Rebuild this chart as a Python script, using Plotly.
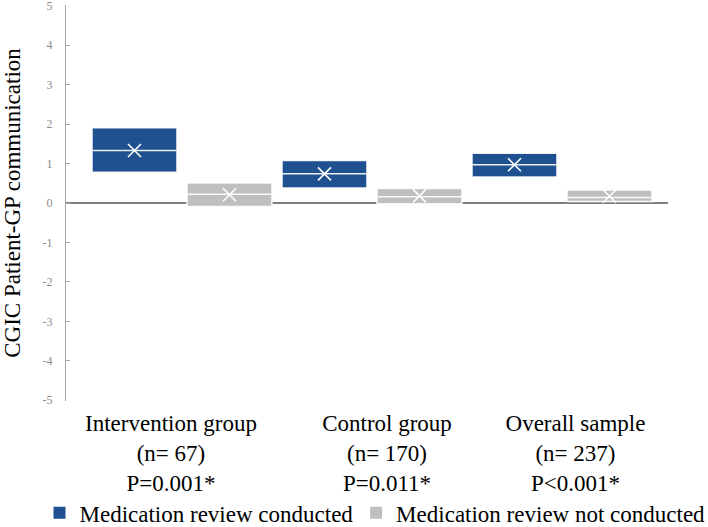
import plotly.graph_objects as go

# ---- data ----
categories = ["Intervention group<br>(n= 67)<br>P=0.001*",
              "Control group<br>(n= 170)<br>P=0.011*",
              "Overall sample<br>(n= 237)<br>P<0.001*"]
series_names = ["Medication review conducted", "Medication review not conducted"]

conducted_lower = [0.78, 0.38, 0.66]
conducted_median = [1.33, 0.74, 0.97]
conducted_upper = [1.91, 1.08, 1.26]
conducted_mean = [1.33, 0.74, 0.97]

not_conducted_lower = [-0.09, -0.02, 0.04]
not_conducted_median = [0.22, 0.16, 0.14]
not_conducted_upper = [0.51, 0.37, 0.33]
not_conducted_mean = [0.21, 0.18, 0.17]

y_ticks = [-5, -4, -3, -2, -1, 0, 1, 2, 3, 4, 5]

# ---- style ----
BLUE = "#1F5190"
GRAY = "#BFBFBF"
FONT = "Liberation Serif"
OFFSETS = [-0.25, 0.25]
BOX_W = 0.447
LABEL_SHIFT = [-0.058, 0.079, 0.071]
LEGEND_X = [0.0558, 0.503]

idx = list(range(len(categories)))

series = [
    (series_names[0], conducted_lower, conducted_median, conducted_upper, conducted_mean, BLUE, OFFSETS[0], "legend"),
    (series_names[1], not_conducted_lower, not_conducted_median, not_conducted_upper, not_conducted_mean, GRAY, OFFSETS[1], "legend2"),
]

fig = go.Figure()
for name, lo, med, up, mean, col, off, leg in series:
    xs = [i + off for i in idx]
    fig.add_trace(go.Box(
        x=xs, q1=lo, median=med, q3=up, lowerfence=lo, upperfence=up,
        width=BOX_W, fillcolor=col, line=dict(color="rgba(255,255,255,0.9)", width=1.5),
        showlegend=False, hoverinfo="skip",
    ))
    fig.add_trace(go.Scatter(
        x=xs, y=mean, mode="markers",
        marker=dict(symbol="x-thin", size=13, line=dict(color="white", width=1.6)),
        showlegend=False, hoverinfo="skip",
    ))
    fig.add_trace(go.Scatter(
        x=[None], y=[None], mode="markers", name=name, legend=leg,
        marker=dict(symbol="square", size=10, color=col),
    ))

legend_common = dict(orientation="h", xanchor="left", xref="container", yref="container",
                     y=0.027, yanchor="middle", bgcolor="rgba(0,0,0,0)",
                     font=dict(size=23, color="black", family=FONT), itemsizing="constant")

fig.update_layout(
    width=708, height=527,
    margin=dict(l=66, r=40, t=5, b=126, autoexpand=False),
    paper_bgcolor="white", plot_bgcolor="white",
    font=dict(family=FONT, color="black"),
    legend=dict(x=LEGEND_X[0], **legend_common),
    legend2=dict(x=LEGEND_X[1], **legend_common),
)
fig.update_xaxes(
    range=[-0.6105, 2.558], automargin=False,
    tickvals=[i + s for i, s in zip(idx, LABEL_SHIFT)],
    ticktext=categories,
    tickfont=dict(size=23, color="black", family=FONT),
    ticklabelstandoff=6,
    showline=False, showgrid=False, zeroline=False, ticks="",
)
fig.update_yaxes(
    range=[-5.02, 5.02], automargin=False,
    tickvals=y_ticks, ticktext=[str(v) for v in y_ticks],
    tickfont=dict(size=12, color="#8C8C8C", family=FONT),
    ticklabeloverflow="allow", ticklabelstandoff=10,
    showline=True, linecolor="#A6A6A6", linewidth=1.3,
    ticks="inside", ticklen=4, tickcolor="#A6A6A6",
    showgrid=False, zeroline=True, zerolinecolor="#808080", zerolinewidth=1.8,
    title=dict(text="CGIC Patient-GP communication", font=dict(size=23, color="black", family=FONT), standoff=16),
)

fig.write_html("out.html", config={"displayModeBar": False},
               post_script="document.body.style.margin='0px';")
